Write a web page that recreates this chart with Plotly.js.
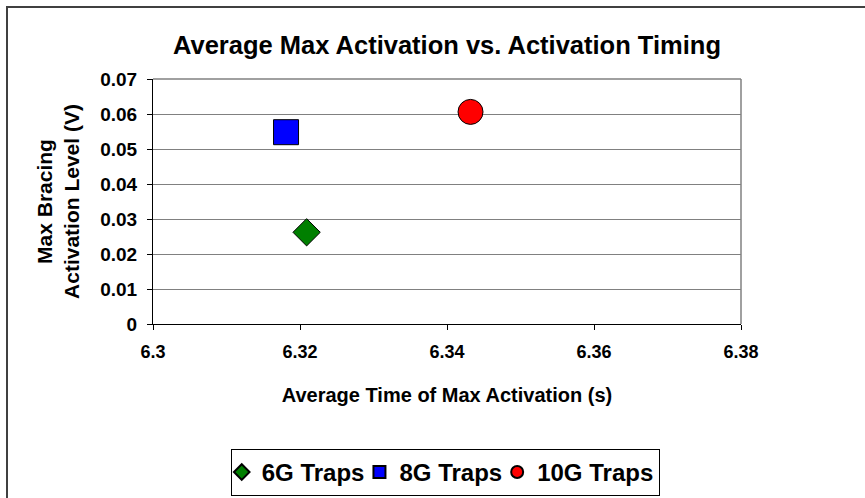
<!DOCTYPE html>
<html>
<head>
<meta charset="utf-8">
<script src="https://cdn.plot.ly/plotly-3.0.1.min.js"></script>
<style>
html,body{margin:0;padding:0;background:#fff;}
#wrap{position:relative;width:865px;height:498px;overflow:hidden;}
#chart{width:865px;height:498px;}
#frame{position:absolute;left:6px;top:6px;width:900px;height:600px;border-left:2px solid #404040;border-top:2px solid #404040;pointer-events:none;}
</style>
</head>
<body>
<div id="wrap"><div id="chart"></div><div id="frame"></div></div>
<script>
const seriesNames = ["6G Traps", "8G Traps", "10G Traps"];
const timeValues = [6.3209, 6.3181, 6.3432];
const activationValues = [0.0262, 0.0548, 0.0606];
const symbols = ["diamond", "square", "circle"];
const colors = ["#007F00", "#0000FF", "#FF0000"];
const sizes = [21, 25, 25];
const xTicks = [6.3, 6.32, 6.34, 6.36, 6.38];
const yTicks = [0, 0.01, 0.02, 0.03, 0.04, 0.05, 0.06, 0.07];

const font = "'Liberation Sans', Arial, sans-serif";
const traces = seriesNames.map((n, i) => ({
  type: "scatter", mode: "markers", name: "<b>" + n + "</b>",
  x: [timeValues[i]], y: [activationValues[i]],
  marker: {symbol: symbols[i], color: colors[i], size: sizes[i], line: {color: "#000", width: 1}}
}));

const layout = {
  width: 865, height: 498,
  margin: {l: 152.5, r: 124, t: 79, b: 174, pad: 0, autoexpand: false},
  paper_bgcolor: "#fff", plot_bgcolor: "#fff",
  font: {family: font, color: "#000", size: 19},
  title: {text: "<b>Average Max Activation vs. Activation Timing</b>", font: {family: font, size: 25.5, color: "#000"},
          x: 0.5, xref: "paper", xanchor: "center", y: 1 - 45/498, yref: "container", yanchor: "middle"},
  xaxis: {
    range: [6.3, 6.38], tickvals: xTicks, ticktext: xTicks.map(v => "<b>" + v + "</b>"),
    showgrid: false, zeroline: false, showline: true, linecolor: "#000", linewidth: 1,
    ticks: "outside", ticklen: 5, tickcolor: "#000", tickfont: {size: 18, family: font},
    ticklabelstandoff: 6, automargin: false,
    title: {text: "<b>Average Time of Max Activation (s)</b>", font: {size: 20, family: font}, standoff: 27}
  },
  yaxis: {
    range: [0, 0.07], tickvals: yTicks, ticktext: yTicks.map(v => "<b>" + v + "</b>"),
    showgrid: true, gridcolor: "#808080", gridwidth: 1, zeroline: false,
    showline: true, linecolor: "#000", linewidth: 1,
    ticks: "outside", ticklen: 5, tickcolor: "#000", tickfont: {size: 19, family: font},
    ticklabelstandoff: 6, automargin: false,
    title: {text: "<b>Max Bracing<br>Activation Level (V)</b>", font: {size: 21, family: font}, standoff: 14}
  },
  shapes: [
    {type: "line", xref: "paper", yref: "paper", x0: 0, x1: 1, y0: 1, y1: 1, line: {color: "#808080", width: 1.5}},
    {type: "line", xref: "paper", yref: "paper", x0: 1, x1: 1, y0: 0, y1: 1, line: {color: "#808080", width: 1.5}}
  ],
  showlegend: true,
  legend: {orientation: "h", x: 0.497, xanchor: "center", y: -0.606, yanchor: "middle",
           bordercolor: "#000", borderwidth: 1, bgcolor: "#fff", indentation: -10,
           font: {size: 24, family: font, color: "#000"}, itemsizing: "constant"},
};
Plotly.newPlot("chart", traces, layout, {displayModeBar: false, staticPlot: true});
</script>
</body>
</html>
